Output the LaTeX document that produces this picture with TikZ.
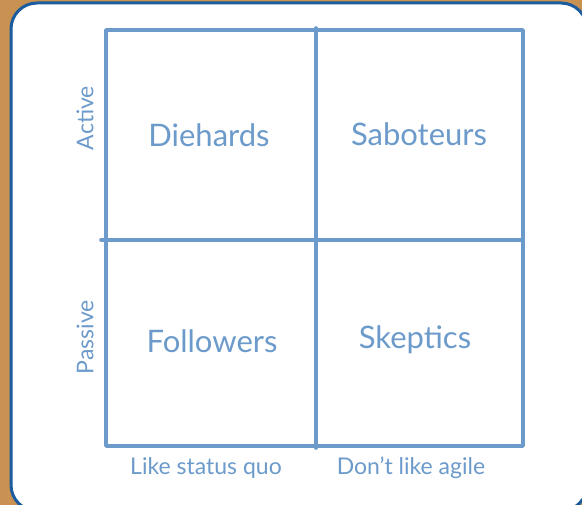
\documentclass[tikz,border=0pt]{standalone}
\usepackage{fontspec}
\setmainfont{Lato}
\definecolor{cork}{HTML}{C99252}
\definecolor{frame}{HTML}{1B5C9E}
\definecolor{pen}{HTML}{6C9BCB}
\begin{document}
\begin{tikzpicture}[x=1pt,y=-1pt,
  gridline/.style={draw=pen,line width=3.6pt,line cap=round,line join=round},
  quad/.style={text=pen,font=\fontsize{31}{34}\selectfont},
  axis/.style={text=pen,font=\fontsize{23}{26}\selectfont}]
\useasboundingbox (0,0) rectangle (582,505);
\fill[cork] (0,0) rectangle (582,505);
\draw[frame,line width=3pt,fill=white,rounded corners=26pt] (11,3) rectangle (587,511);
% grid corners
\coordinate (tl) at (106,30);
\coordinate (tr) at (523,30);
\coordinate (bl) at (106,446);
\coordinate (br) at (523,446);
\coordinate (tm) at (316,28);
\coordinate (bm) at (316,448);
\coordinate (ml) at (101,240);
\coordinate (mr) at (523,240);
\draw[gridline] (tl) -- (tr) -- (br) -- (bl) -- cycle;
\draw[gridline] (tm) -- (bm);
\draw[gridline] (ml) -- (mr);
\node[quad] (diehards) at (209,135) {Diehards};
\node[quad] (saboteurs) at (419,134) {Saboteurs};
\node[quad] (followers) at (212,341) {Followers};
\node[quad] (skeptics) at (415,340) {Skeptics};
\node[axis,rotate=90] (active) at (85,118) {Active};
\node[axis,rotate=90] (passive) at (85,337) {Passive};
\node[axis] (likesq) at (206,468) {Like status quo};
\node[axis] (dontlike) at (411,468) {Don’t like agile};
\end{tikzpicture}
\end{document}
